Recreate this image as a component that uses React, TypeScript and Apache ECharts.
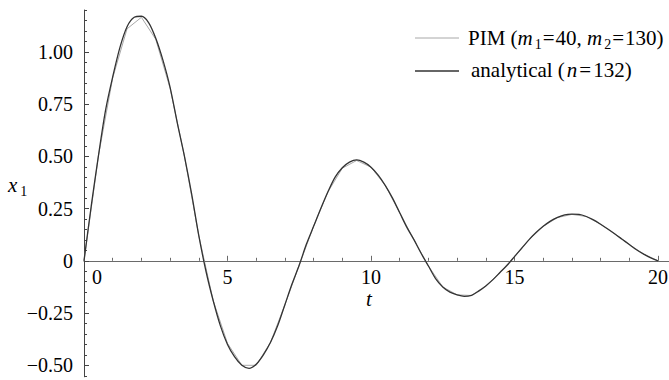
import React, { useEffect, useRef } from 'react';
import * as echarts from 'echarts';

// analytical solution (n = 132), sampled every 0.25 in t
const T_STEP_ANALYTICAL = 0.25;
const ANALYTICAL = [
  0, 0.26, 0.5, 0.72, 0.88, 1.02, 1.12, 1.165, 1.17, 1.14, 1.065, 0.96, 0.83, 0.66, 0.5, 0.32,
  0.12, -0.05, -0.19, -0.31, -0.4, -0.46, -0.5, -0.515, -0.495, -0.45, -0.39, -0.31, -0.21, -0.11,
  -0.02, 0.08, 0.165, 0.25, 0.33, 0.4, 0.445, 0.472, 0.483, 0.472, 0.448, 0.41, 0.36, 0.3, 0.23,
  0.16, 0.1, 0.035, -0.025, -0.085, -0.125, -0.15, -0.163, -0.17, -0.165, -0.145, -0.12, -0.09,
  -0.055, -0.02, 0.02, 0.06, 0.1, 0.135, 0.165, 0.19, 0.208, 0.22, 0.223, 0.222, 0.212, 0.196,
  0.175, 0.152, 0.128, 0.103, 0.078, 0.053, 0.032, 0.014, 0,
];

// PIM (m1 = 40, m2 = 130), nodes every 0.5 in t
const T_STEP_PIM = 0.5;
const PIM = [
  0, 0.5, 0.875, 1.11, 1.165, 1.06, 0.825, 0.5, 0.12, -0.19, -0.395, -0.5, -0.5, -0.39, -0.21,
  -0.02, 0.165, 0.33, 0.443, 0.48, 0.448, 0.36, 0.23, 0.1, -0.025, -0.125, -0.163, -0.166, -0.12,
  -0.055, 0.02, 0.1, 0.165, 0.207, 0.222, 0.212, 0.175, 0.128, 0.078, 0.032, 0,
];

const X_MAJOR = [0, 5, 10, 15, 20];
const X_MINOR = [1, 2, 3, 4, 6, 7, 8, 9, 11, 12, 13, 14, 16, 17, 18, 19];
const Y_MAJOR = [-0.5, -0.25, 0, 0.25, 0.5, 0.75, 1.0];
const Y_MINOR = [
  -0.55, -0.45, -0.4, -0.35, -0.3, -0.2, -0.15, -0.1, -0.05, 0.05, 0.1, 0.15, 0.2, 0.3, 0.35, 0.4,
  0.45, 0.55, 0.6, 0.65, 0.7, 0.8, 0.85, 0.9, 0.95, 1.05, 1.1, 1.15, 1.2,
];
const X_MIN = 0;
const X_MAX = 20.4;
const Y_MIN = -0.555;
const Y_MAX = 1.2;

const FONT = '"Liberation Serif", "Times New Roman", serif';
const AXIS_COLOR = '#6a6a6a';

export default function App() {
  const ref = useRef<HTMLDivElement>(null);

  useEffect(() => {
    if (!ref.current) return;
    const chart = echarts.init(ref.current, undefined, { renderer: 'svg' });

    const analyticalData = ANALYTICAL.map((v, i) => [i * T_STEP_ANALYTICAL, v]);
    const pimData = PIM.map((v, i) => [i * T_STEP_PIM, v]);

    const plotLeft = 84;
    const plotTop = 10;
    const plotWidth = 585.5;
    const plotHeight = 366.8;
    // grid whose bottom edge sits on y = 0 of the plot grid, to carry the t axis
    const zeroHeight = (plotHeight * (Y_MAX - 0)) / (Y_MAX - Y_MIN);

    const yBase = {
      type: 'value',
      gridIndex: 0,
      min: Y_MIN,
      max: Y_MAX,
      position: 'left',
      splitLine: { show: false },
    };

    const rich = {
      i: { fontFamily: FONT, fontSize: 21, fontStyle: 'italic', color: '#000' },
      ip: { fontFamily: FONT, fontSize: 21, fontStyle: 'italic', color: '#000', padding: [0, 0, 0, 2] },
      it: { fontFamily: FONT, fontSize: 21, fontStyle: 'italic', color: '#000', lineHeight: 16 },
      n: { fontFamily: FONT, fontSize: 21, color: '#000' },
      e: { fontFamily: FONT, fontSize: 21, color: '#000', padding: [0, 1, 0, 1] },
      e2: { fontFamily: FONT, fontSize: 21, color: '#000', padding: [0, 2, 0, 2] },
      s: { fontFamily: FONT, fontSize: 14, color: '#000', padding: [12, 0, 0, 2] },
      sx: { fontFamily: FONT, fontSize: 14, color: '#000', padding: [12, 0, 0, 3] },
    };

    chart.setOption({
      animation: false,
      grid: [
        { left: plotLeft, top: plotTop, width: plotWidth, height: plotHeight, containLabel: false, outerBoundsMode: 'none' },
        { left: plotLeft, top: plotTop, width: plotWidth, height: zeroHeight, containLabel: false, outerBoundsMode: 'none' },
      ],
      xAxis: [
        { type: 'value', gridIndex: 0, min: X_MIN, max: X_MAX, show: false },
        {
          type: 'value',
          gridIndex: 1,
          min: X_MIN,
          max: X_MAX,
          position: 'bottom',
          splitLine: { show: false },
          axisLine: { show: true, onZero: false, lineStyle: { color: AXIS_COLOR, width: 1 } },
          axisTick: { show: true, inside: true, length: 5, customValues: X_MAJOR, lineStyle: { color: AXIS_COLOR } },
          axisLabel: {
            show: true,
            customValues: X_MAJOR,
            margin: 6,
            fontFamily: FONT,
            fontSize: 20,
            color: '#000',
            formatter: (v: number) => (v === 0 ? '{z|0}' : String(v)),
            rich: { z: { fontFamily: FONT, fontSize: 20, color: '#000', padding: [0, 0, 0, 26] } },
          },
        },
        {
          type: 'value',
          gridIndex: 1,
          min: X_MIN,
          max: X_MAX,
          position: 'bottom',
          splitLine: { show: false },
          axisLine: { show: false, onZero: false },
          axisTick: { show: true, inside: true, length: 3, customValues: X_MINOR, lineStyle: { color: AXIS_COLOR } },
          axisLabel: { show: false },
        },
      ],
      yAxis: [
        {
          ...yBase,
          axisLine: { show: true, onZero: false, lineStyle: { color: '#444', width: 1 } },
          axisTick: { show: true, inside: true, length: 5, customValues: Y_MAJOR, lineStyle: { color: '#444' } },
          axisLabel: {
            show: true,
            customValues: Y_MAJOR,
            margin: 11,
            fontFamily: FONT,
            fontSize: 20,
            color: '#000',
            formatter: (v: number) => (v === 0 ? '0' : v.toFixed(2).replace('-', '\u2212')),
          },
        },
        {
          ...yBase,
          axisLine: { show: false, onZero: false },
          axisTick: { show: true, inside: true, length: 3, customValues: Y_MINOR, lineStyle: { color: '#444' } },
          axisLabel: { show: false },
        },
        { type: 'value', gridIndex: 1, min: 0, max: 1, show: false },
      ],
      series: [
        {
          name: 'PIM',
          type: 'line',
          xAxisIndex: 0,
          yAxisIndex: 0,
          data: pimData,
          showSymbol: false,
          symbol: 'none',
          lineStyle: { color: '#a8a8a8', width: 1 },
          z: 2,
        },
        {
          name: 'analytical',
          type: 'line',
          xAxisIndex: 0,
          yAxisIndex: 0,
          data: analyticalData,
          showSymbol: false,
          symbol: 'none',
          smooth: 0.3,
          lineStyle: { color: '#333', width: 1.3 },
          z: 3,
        },
      ],
      graphic: [
        {
          type: 'text',
          x: 8,
          y: 185,
          style: { text: '{i|x}{sx|1}', rich, verticalAlign: 'middle', align: 'left' },
        },
        {
          type: 'text',
          x: 369,
          y: 299,
          style: { text: '{it|t}', rich, verticalAlign: 'middle', align: 'center' },
        },
        {
          type: 'line',
          shape: { x1: 415, y1: 38, x2: 459, y2: 38 },
          style: { stroke: '#a8a8a8', lineWidth: 1 },
        },
        {
          type: 'text',
          x: 468,
          y: 38,
          style: {
            text: '{n|PIM (}{i|m}{s|1}{e|=}{n|40, }{i|m}{s|2}{e|=}{n|130)}',
            rich,
            verticalAlign: 'middle',
            align: 'left',
          },
        },
        {
          type: 'line',
          shape: { x1: 415, y1: 71, x2: 459, y2: 71 },
          style: { stroke: '#333', lineWidth: 1.3 },
        },
        {
          type: 'text',
          x: 471,
          y: 70,
          style: {
            text: '{n|analytical (}{ip|n}{e2|=}{n|132)}',
            rich,
            verticalAlign: 'middle',
            align: 'left',
          },
        },
      ],
    });

    return () => chart.dispose();
  }, []);

  return (
    <div
      ref={ref}
      style={{ position: 'fixed', left: 0, top: 0, width: 669, height: 380, background: '#fff' }}
    />
  );
}
